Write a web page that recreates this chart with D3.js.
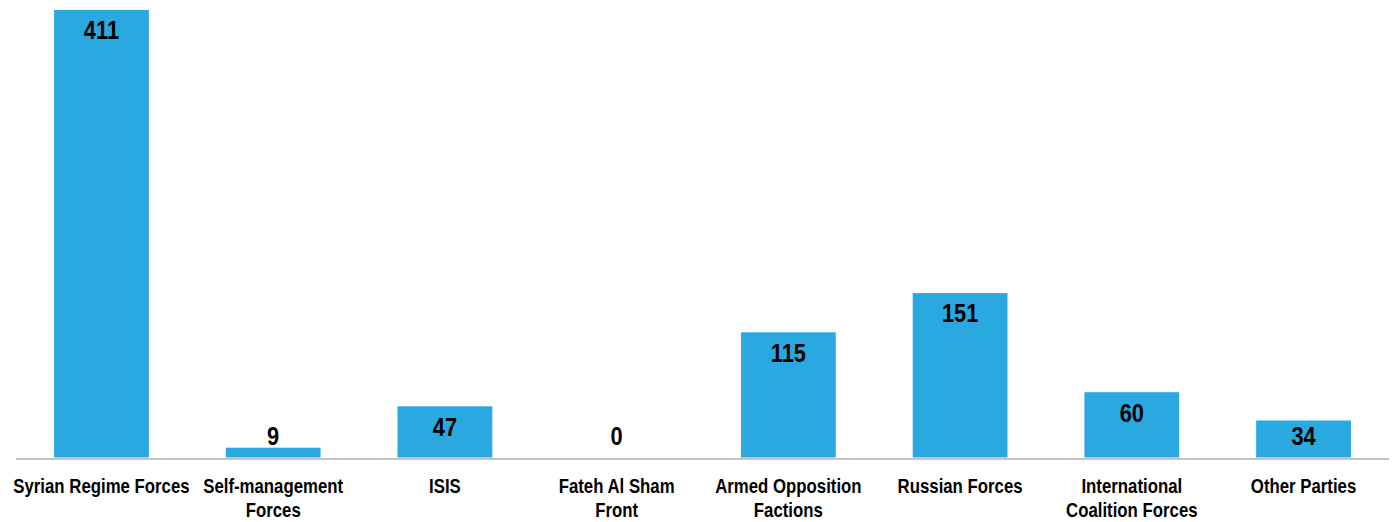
<!DOCTYPE html>
<html><head><meta charset="utf-8">
<script src="https://cdn.jsdelivr.net/npm/d3@7"></script>
<style>
body{margin:0;background:#fff;}
text{font-family:"Liberation Sans","Arial",sans-serif;font-weight:bold;}
</style></head>
<body><svg id="c" width="1394" height="522"></svg>
<script>
const categories = ["Syrian Regime Forces","Self-management Forces","ISIS","Fateh Al Sham Front","Armed Opposition Factions","Russian Forces","International Coalition Forces","Other Parties"];
const categoryLines = [["Syrian Regime Forces"],["Self-management","Forces"],["ISIS"],["Fateh Al Sham","Front"],["Armed Opposition","Factions"],["Russian Forces"],["International","Coalition Forces"],["Other Parties"]];
const values = [411,9,47,0,115,151,60,34];

const svg = d3.select("#c");
const baseY = 457.5;
const x = d3.scaleBand().domain(categories).range([15.6,1389.4]).paddingInner(0.448).paddingOuter(0.224);
const y = d3.scaleLinear().domain([0,411]).range([baseY,10]);
const cx = i => x(categories[i]) + x.bandwidth()/2;

svg.selectAll("rect.bar").data(values).join("rect")
  .attr("class","bar")
  .attr("x",(d,i)=>x(categories[i]))
  .attr("width",x.bandwidth())
  .attr("y",d=>y(d))
  .attr("height",d=>baseY-y(d))
  .attr("fill","#29a9e0");

svg.append("line").attr("x1",16).attr("x2",1389).attr("y1",459).attr("y2",459)
  .attr("stroke","#c4c4c4").attr("stroke-width",2);

svg.selectAll("text.val").data(values).join("text")
  .attr("class","val")
  .attr("transform",(d,i)=>`translate(${cx(i)},${Math.min(y(d)+20, baseY-22)}) scale(0.84,1)`)
  .attr("dy","0.36em")
  .attr("text-anchor","middle")
  .attr("font-size",26)
  .attr("fill","#000")
  .text(d=>d);

const labs = svg.selectAll("text.cat").data(categoryLines).join("text")
  .attr("class","cat")
  .attr("transform",(d,i)=>`translate(${cx(i)},493) scale(0.84,1)`)
  .attr("text-anchor","middle")
  .attr("font-size",20)
  .attr("fill","#000");
labs.selectAll("tspan").data(d=>d).join("tspan")
  .attr("x",0)
  .attr("dy",(d,i)=>i===0?0:24)
  .text(d=>d);
</script></body></html>
